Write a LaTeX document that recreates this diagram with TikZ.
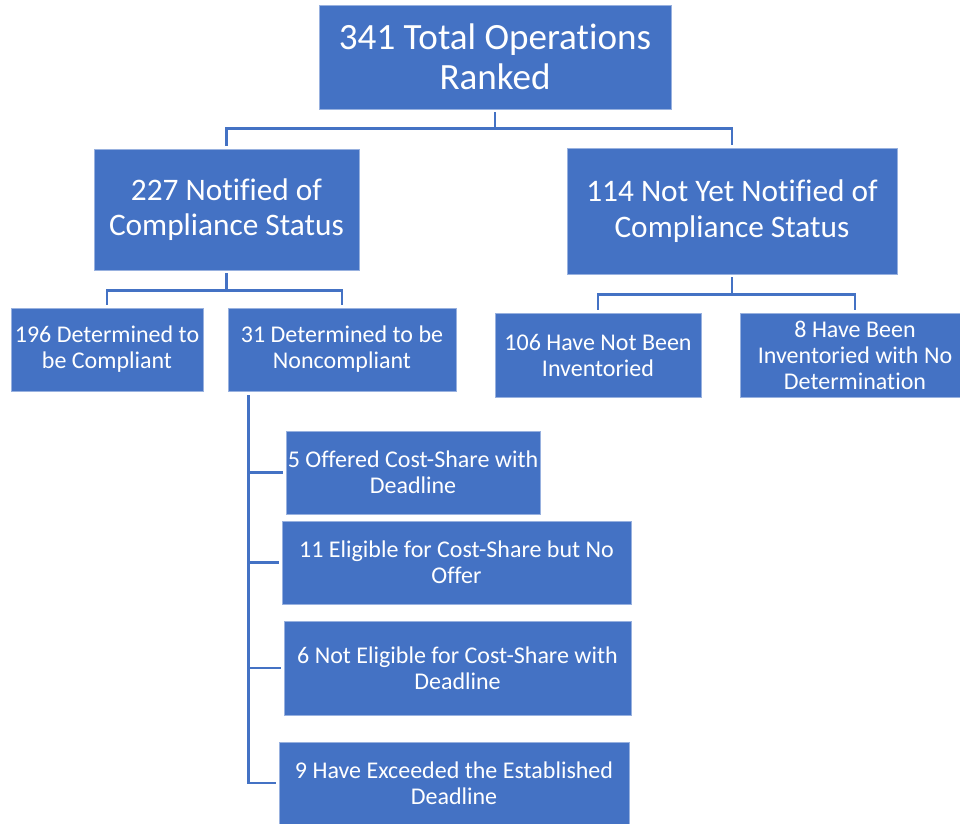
\documentclass[tikz,border=0pt]{standalone}
\usepackage{fontspec}
\setmainfont{Carlito}[Ligatures=NoCommon]
\definecolor{boxblue}{HTML}{4472C4}
\begin{document}
\begin{tikzpicture}[x=0.75pt,y=-0.75pt,
  box/.style={draw=boxblue!55!white, line width=0.6pt, fill=boxblue, text=white,
    align=center, inner sep=0pt, anchor=center},
  sz/.style 2 args={minimum width=#1*0.75pt, minimum height=#2*0.75pt},
  big/.style={font=\fontsize{27.8pt}{30pt}\selectfont},
  mid/.style={font=\fontsize{23.5pt}{26.5pt}\selectfont},
  small/.style={font=\fontsize{18pt}{19.5pt}\selectfont},
  conn/.style={draw=boxblue, line width=2pt}]
\useasboundingbox (0,0) rectangle (960,824);

\node[box,big,sz={352}{104}] (top) at (495,57) {341 Total Operations\\Ranked};
\node[box,mid,sz={265}{121}] (n227) at (226.5,209.5) {227 Notified of\\Compliance Status};
\node[box,mid,sz={330}{126}] (n114) at (732,211) {114 Not Yet Notified of\\Compliance Status};

\node[box,small,sz={192}{83}] (n196) at (107,349.5) {196 Determined to\\be Compliant};
\node[box,small,sz={228}{83}] (n31) at (342,349.5) {31 Determined to be\\Noncompliant};
\node[box,small,sz={206}{84}] (n106) at (598,355) {106 Have Not Been\\Inventoried};
\node[box,small,sz={230}{84}] (n8) at (855,355) {8 Have Been\\Inventoried with No\\Determination};

\node[box,small,sz={254}{83}] (s5) at (413,472.5) {5 Offered Cost-Share with\\Deadline};
\node[box,small,sz={349}{83}] (s11) at (456.5,562.5) {11 Eligible for Cost-Share but No\\Offer};
\node[box,small,sz={347}{94}] (s6) at (457.5,668) {6 Not Eligible for Cost-Share with\\Deadline};
\node[box,small,sz={350}{82}] (s9) at (454,783) {9 Have Exceeded the Established\\Deadline};

\draw[conn, shorten <=2pt, shorten >=2pt] (top.south) -- ++(0,19) -| (n227.north);
\draw[conn, shorten <=2pt, shorten >=2pt] (top.south) -- ++(0,19) -| (n114.north);
\draw[conn, shorten <=2pt, shorten >=2pt] (n227.south) -- ++(0,20) -| (n196.north);
\draw[conn, shorten <=2pt, shorten >=2pt] (n227.south) -- ++(0,20) -| (n31.north);
\draw[conn, shorten <=2pt, shorten >=2pt] (n114.south) -- ++(0,20) -| (n106.north);
\draw[conn, shorten <=2pt, shorten >=2pt] (n114.south) -- ++(0,20) -| (n8.north);

\coordinate (trunk) at ([shift={(21,4)}]n31.south west);
\draw[conn, shorten >=2pt] (trunk) |- (s9.west);
\draw[conn, shorten >=2pt] (trunk) |- (s5.west);
\draw[conn, shorten >=2pt] (trunk) |- (s11.west);
\draw[conn, shorten >=2pt] (trunk) |- (s6.west);
\end{tikzpicture}
\end{document}
